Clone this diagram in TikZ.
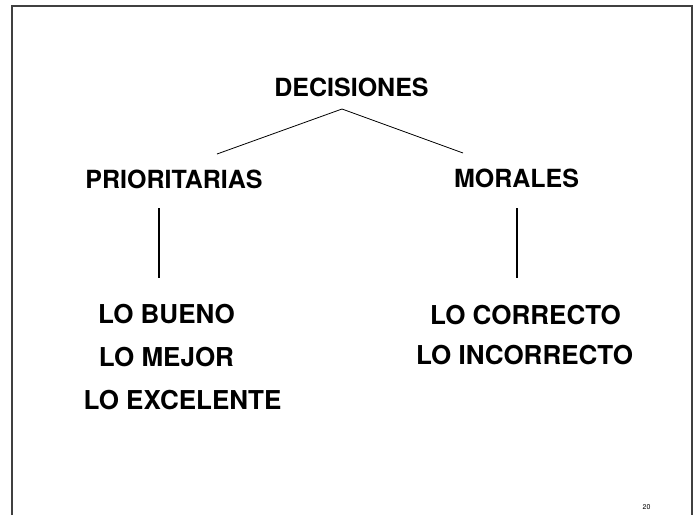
\documentclass[tikz,border=0pt]{standalone}
\usepackage{fontspec}
\setmainfont{TeX Gyre Heros}
\usepackage{tikz}
\def\drawlink{\draw[color=black, line width=0.8pt]}
\def\drawbar{\draw[color=black, line width=2pt]}
\def\headnode{\node[font=\bfseries\fontsize{25}{30}\selectfont, anchor=base, inner sep=0pt]}
\def\itemnode{\node[font=\bfseries\fontsize{26}{31}\selectfont, anchor=base, inner sep=0pt]}

\begin{document}
\begin{tikzpicture}[x=1pt,y=-1pt]
\useasboundingbox (0,0) rectangle (697,515);
% slide frame, open at the bottom
\draw[color=black!75, line width=1.6pt] (12,515) -- (12,6) -- (692,6) -- (692,515);

% -------- top of the tree ---------
\headnode (dec) at (351.5,96) {DECISIONES};
\coordinate (apex) at (342,109);
\coordinate (leftend) at (217,154);
\coordinate (rightend) at (463,153);
\drawlink (apex) -- (leftend);
\drawlink (apex) -- (rightend);

% -------- the two branches ---------
\headnode (prio) at (174,188) {PRIORITARIAS};
\headnode (mor) at (516.5,187) {MORALES};
\coordinate (prio_top) at (159,208);
\coordinate (prio_bot) at (159,278);
\coordinate (mor_top) at (517,208);
\coordinate (mor_bot) at (517,278);
\drawbar (prio_top) -- (prio_bot);
\drawbar (mor_top) -- (mor_bot);

% left list
\itemnode (bueno) at (166.5,323) {LO BUENO};
\itemnode (mejor) at (166.5,366) {LO MEJOR};
\itemnode (excel) at (182.5,409) {LO EXCELENTE};

% right list
\itemnode (corr) at (525.5,324) {LO CORRECTO};
\itemnode (incorr) at (524.5,364) {LO INCORRECTO};

% page number
\node[font=\fontsize{7}{8}\selectfont, anchor=base, inner sep=0pt] (page) at (646.5,509) {20};
\end{tikzpicture}
\end{document}
